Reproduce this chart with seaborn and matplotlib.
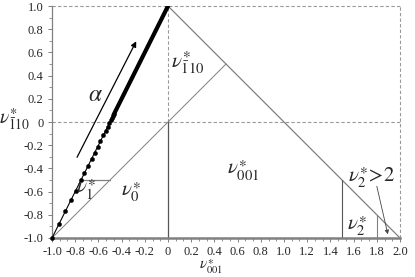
import matplotlib
matplotlib.use("Agg")
import matplotlib.pyplot as plt
import seaborn as sns
import pandas as pd
from matplotlib.ticker import AutoMinorLocator, FuncFormatter

try:
    import matplotlib._mathtext as _mt
    _mt.STIXFontConstants.sup1 = 0.4
    _mt.STIXFontConstants.sub2 = 0.7
except Exception:
    pass

# ---- data ----
dot_x = [-1.0, -0.938, -0.885, -0.8375, -0.796, -0.75, -0.721, -0.6895, -0.658,
         -0.632, -0.606, -0.583, -0.5575, -0.5375, -0.52, -0.505, -0.4925,
         -0.4825, -0.4725, -0.465]
dot_y = [-1.0, -0.876, -0.77, -0.675, -0.592, -0.5, -0.442, -0.379, -0.316,
         -0.264, -0.212, -0.166, -0.115, -0.075, -0.04, -0.01, 0.015,
         0.035, 0.055, 0.07]
dense_x = [-0.47, 0.0]
dense_y = [0.06, 1.0]

left_edge_x = [-1.0, 0.0]
left_edge_y = [-1.0, 1.0]
right_edge_x = [0.0, 2.0]
right_edge_y = [1.0, -1.0]
diag_x = [-1.0, 0.5]
diag_y = [-1.0, 0.5]
v0_x = [0.0, 0.0]
v0_y = [-1.0, 0.0]
h1_x = [-0.75, -0.5]
h1_y = [-0.5, -0.5]
v15_x = [1.5, 1.5]
v15_y = [-1.0, -0.5]
v18_x = [1.8, 1.8]
v18_y = [-1.0, -0.8]

xticks = [-1.0, -0.8, -0.6, -0.4, -0.2, 0, 0.2, 0.4, 0.6, 0.8, 1.0, 1.2, 1.4, 1.6, 1.8, 2.0]
yticks = [-1.0, -0.8, -0.6, -0.4, -0.2, 0, 0.2, 0.4, 0.6, 0.8, 1.0]

region_labels = [r'$\nu^{\ast}_{\bar{1}10}$', r'$\nu^{\ast}_{001}$', r'$\nu^{\ast}_0$',
                 r'$\nu^{\ast}_1$', r'$\nu^{\ast}_2$']
region_x = [0.167, 0.65, -0.317, -0.706, 1.63]
region_y = [0.515, -0.425, -0.606, -0.59, -0.9]

# ---- style ----
sns.set_theme(style="white")
plt.rcParams['font.family'] = ['Liberation Serif', 'DejaVu Serif']
plt.rcParams['mathtext.fontset'] = 'stix'

fig = plt.figure(figsize=(4.15, 2.77), dpi=100)
ax = fig.add_axes([0.1253, 0.1408, 0.8386, 0.8375])

gray = '#808080'
dgray = '#555555'

# structural lines
ax.plot(left_edge_x, left_edge_y, color='black', lw=0.8, zorder=3)
ax.plot(right_edge_x, right_edge_y, color=gray, lw=0.9, zorder=2)
ax.plot(diag_x, diag_y, color=gray, lw=0.7, zorder=2)
ax.plot(v0_x, v0_y, color=dgray, lw=0.9, zorder=2)
ax.plot(h1_x, h1_y, color=gray, lw=0.9, zorder=2)
ax.plot(v15_x, v15_y, color=dgray, lw=0.8, zorder=2)
ax.plot(v18_x, v18_y, color=gray, lw=0.8, zorder=2)

# dashed guides
dash = dict(color='#999999', lw=0.8, linestyle=(0, (3, 2)), zorder=1, clip_on=False)
ax.plot([-1.0, 2.0], [0.0, 0.0], **dash)
ax.plot([0.0, 0.0], [0.0, 1.0], **dash)
ax.plot([-1.0, 2.0], [1.0, 1.0], **dash)
ax.plot([2.0, 2.0], [-1.0, 1.0], **dash)

# dots
df = pd.DataFrame({'x': dot_x, 'y': dot_y})
sns.scatterplot(data=df, x='x', y='y', ax=ax, color='black', s=9,
                edgecolor='black', linewidth=0.3, zorder=4, clip_on=False)
ax.plot(dense_x, dense_y, color='black', lw=3.0, solid_capstyle='round', zorder=4)

# labels
for t, x, y in zip(region_labels, region_x, region_y):
    ax.text(x, y, t, fontsize=15, ha='center', va='center', zorder=5)

ax.text(1.75, -0.48, r'$\nu^{\ast}_2\!>\!2$', fontsize=15, ha='center', va='center', zorder=5)
ax.annotate('', xy=(1.895, -0.968), xytext=(1.80, -0.554),
            arrowprops=dict(arrowstyle='-|>', color='#444444', lw=0.6,
                            mutation_scale=6, shrinkA=0, shrinkB=0))
ax.annotate('', xy=(-0.274, 0.696), xytext=(-0.784, -0.304),
            arrowprops=dict(arrowstyle='-|>', color='black', lw=0.9,
                            mutation_scale=8, shrinkA=0, shrinkB=0))
ax.text(-0.628, 0.23, r'$\alpha$', fontsize=17, ha='center', va='center')

# axes
ax.set_xlim(-1.0, 2.0)
ax.set_ylim(-1.0, 1.0)
for s in ['top', 'right']:
    ax.spines[s].set_visible(False)
ax.spines['left'].set_color(gray)
ax.spines['left'].set_linewidth(0.9)
ax.spines['bottom'].set_color(gray)
ax.spines['bottom'].set_linewidth(1.8)

fmt = FuncFormatter(lambda v, p: '0' if abs(v) < 1e-9 else f'{v:.1f}')
ax.set_xticks(xticks)
ax.set_yticks(yticks)
ax.xaxis.set_major_formatter(fmt)
ax.yaxis.set_major_formatter(fmt)
ax.xaxis.set_minor_locator(AutoMinorLocator(3))
ax.yaxis.set_minor_locator(AutoMinorLocator(2))
ax.tick_params(axis='both', which='major', direction='out', length=3, width=0.7,
               color=gray, labelsize=9, left=True, bottom=True)
ax.tick_params(axis='y', which='major', pad=3)
ax.tick_params(axis='x', which='major', pad=2.5)
ax.tick_params(axis='both', which='minor', direction='out', length=2, width=0.6,
               color=gray, left=True, bottom=True)

ax.set_xlabel('')
ax.set_ylabel(r'$\nu^{\ast}_{\bar{1}10}$', fontsize=14, rotation=0)
ax.yaxis.set_label_coords(-0.062, 0.51)
ax.yaxis.label.set_va('center')
ax.yaxis.label.set_ha('right')

# x-axis title: fit it between the tick labels and the bottom edge
xlab = fig.text(0.508, 1.5 / 277, r'$\nu^{\ast}_{001}$', fontsize=15,
                ha='center', va='bottom')
fig.canvas.draw()
renderer = fig.canvas.get_renderer()
tick_bottom = min(t.get_window_extent(renderer).y0
                  for t in ax.get_xticklabels() if t.get_text())
for fs in [15, 14.5, 14, 13.5, 13, 12.5, 12, 11.5, 11]:
    xlab.set_fontsize(fs)
    bb = xlab.get_window_extent(renderer)
    if bb.y1 < tick_bottom - 0.8:
        break

fig.savefig('out.png', dpi=100)
